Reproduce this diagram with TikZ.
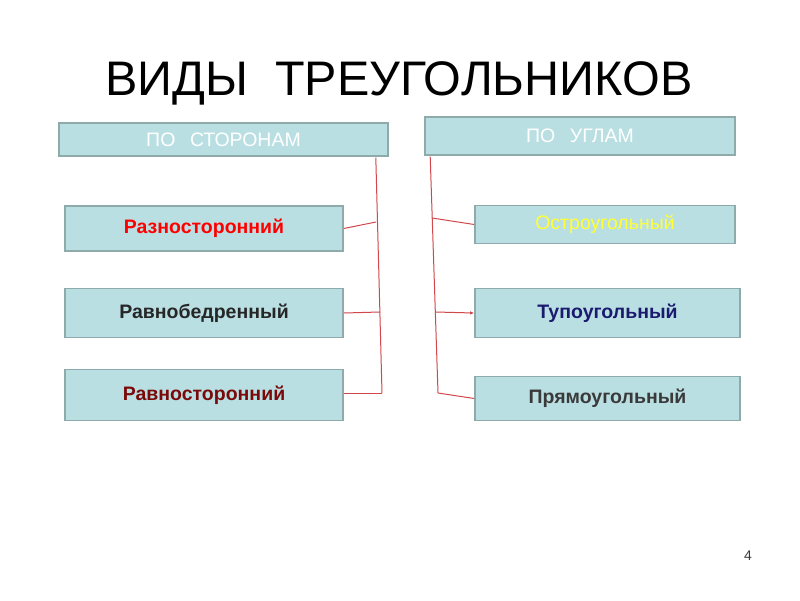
\documentclass[tikz,border=0pt]{standalone}
\usepackage{fontspec}
\setmainfont{Liberation Sans}
\usetikzlibrary{arrows.meta,calc}
\definecolor{boxfill}{HTML}{BADFE3}
\definecolor{boxborder}{HTML}{8FAAAB}
\definecolor{linkred}{HTML}{D0474C}
\definecolor{txtnavy}{HTML}{1A1A6E}
\definecolor{txtdred}{HTML}{7A0A0A}
\definecolor{txtyellow}{HTML}{FFFF33}
\definecolor{txtdark}{HTML}{262626}
\definecolor{txtgray}{HTML}{3A3A3A}
\tikzset{
  catbox/.style={draw=boxborder, line width=1.6pt, fill=boxfill, inner sep=0pt,
    font=\fontsize{19.5}{22}\selectfont, text=white},
  kindbox/.style={draw=boxborder, line width=1.6pt, fill=boxfill, inner sep=0pt,
    font=\fontsize{19.5}{22}\selectfont\bfseries},
  link/.style={draw=linkred, line width=1pt},
}
\begin{document}
\begin{tikzpicture}[x=1pt,y=-1pt]
\useasboundingbox[fill=white] (0,0) rectangle (800,600);
\node[font=\fontsize{48.5}{56}\selectfont, text=black] (title) at (399,83) {ВИДЫ\hspace{0.55em}ТРЕУГОЛЬНИКОВ};
\node[catbox, minimum width=329pt, minimum height=33pt] (s) at (223.5,139.5) {ПО\hspace{0.75em}СТОРОНАМ};
\node[catbox, minimum width=310pt, minimum height=38pt] (u) at (580,136) {ПО\hspace{0.75em}УГЛАМ};
\node[kindbox, minimum width=278pt, minimum height=45pt, text=red] (a1) at (204,228.5) {Разносторонний};
\node[kindbox, minimum width=278pt, minimum height=49pt, text=txtdark] (a2) at (204,313) {Равнобедренный};
\node[kindbox, minimum width=278pt, minimum height=51pt, text=txtdred] (a3) at (204,395) {Равносторонний};
\node[kindbox, minimum width=260pt, minimum height=38pt, text=txtyellow, font=\fontsize{19.5}{22}\selectfont] (b1) at (605,224.5) {Остроугольный};
\node[kindbox, minimum width=265pt, minimum height=49pt, text=txtnavy] (b2) at (607.5,313) {Тупоугольный};
\node[kindbox, minimum width=265pt, minimum height=44pt, text=txtgray] (b3) at (607.5,398.5) {Прямоугольный};
\node[font=\fontsize{14}{16}\selectfont, text=txtgray] (pg) at (748,556) {4};
% left connector bar
\coordinate (lt) at ($(s.south east)+(-13,0.8)$);
\coordinate (lb) at (382,393);
\coordinate (j1) at (376,222);
\coordinate (j2) at (380,312);
\draw[link] (lt) -- (lb);
\draw[link] (a1.east) -- (j1);
\draw[link] (a2.east) -- (j2);
\draw[link] (a3.east |- lb) -- (lb);
% right connector bar
\coordinate (rt) at ($(u.south west)+(6,0.8)$);
\coordinate (rb) at (438,393);
\coordinate (k1) at (432,218);
\coordinate (k2) at (435.5,312);
\draw[link] (rt) -- (rb);
\draw[link] (k1) -- (b1.west);
\draw[link, -{Latex[length=4pt,width=3.5pt]}] (k2) -- (b2.west);
\draw[link] (rb) -- (b3.west);
\end{tikzpicture}
\end{document}
